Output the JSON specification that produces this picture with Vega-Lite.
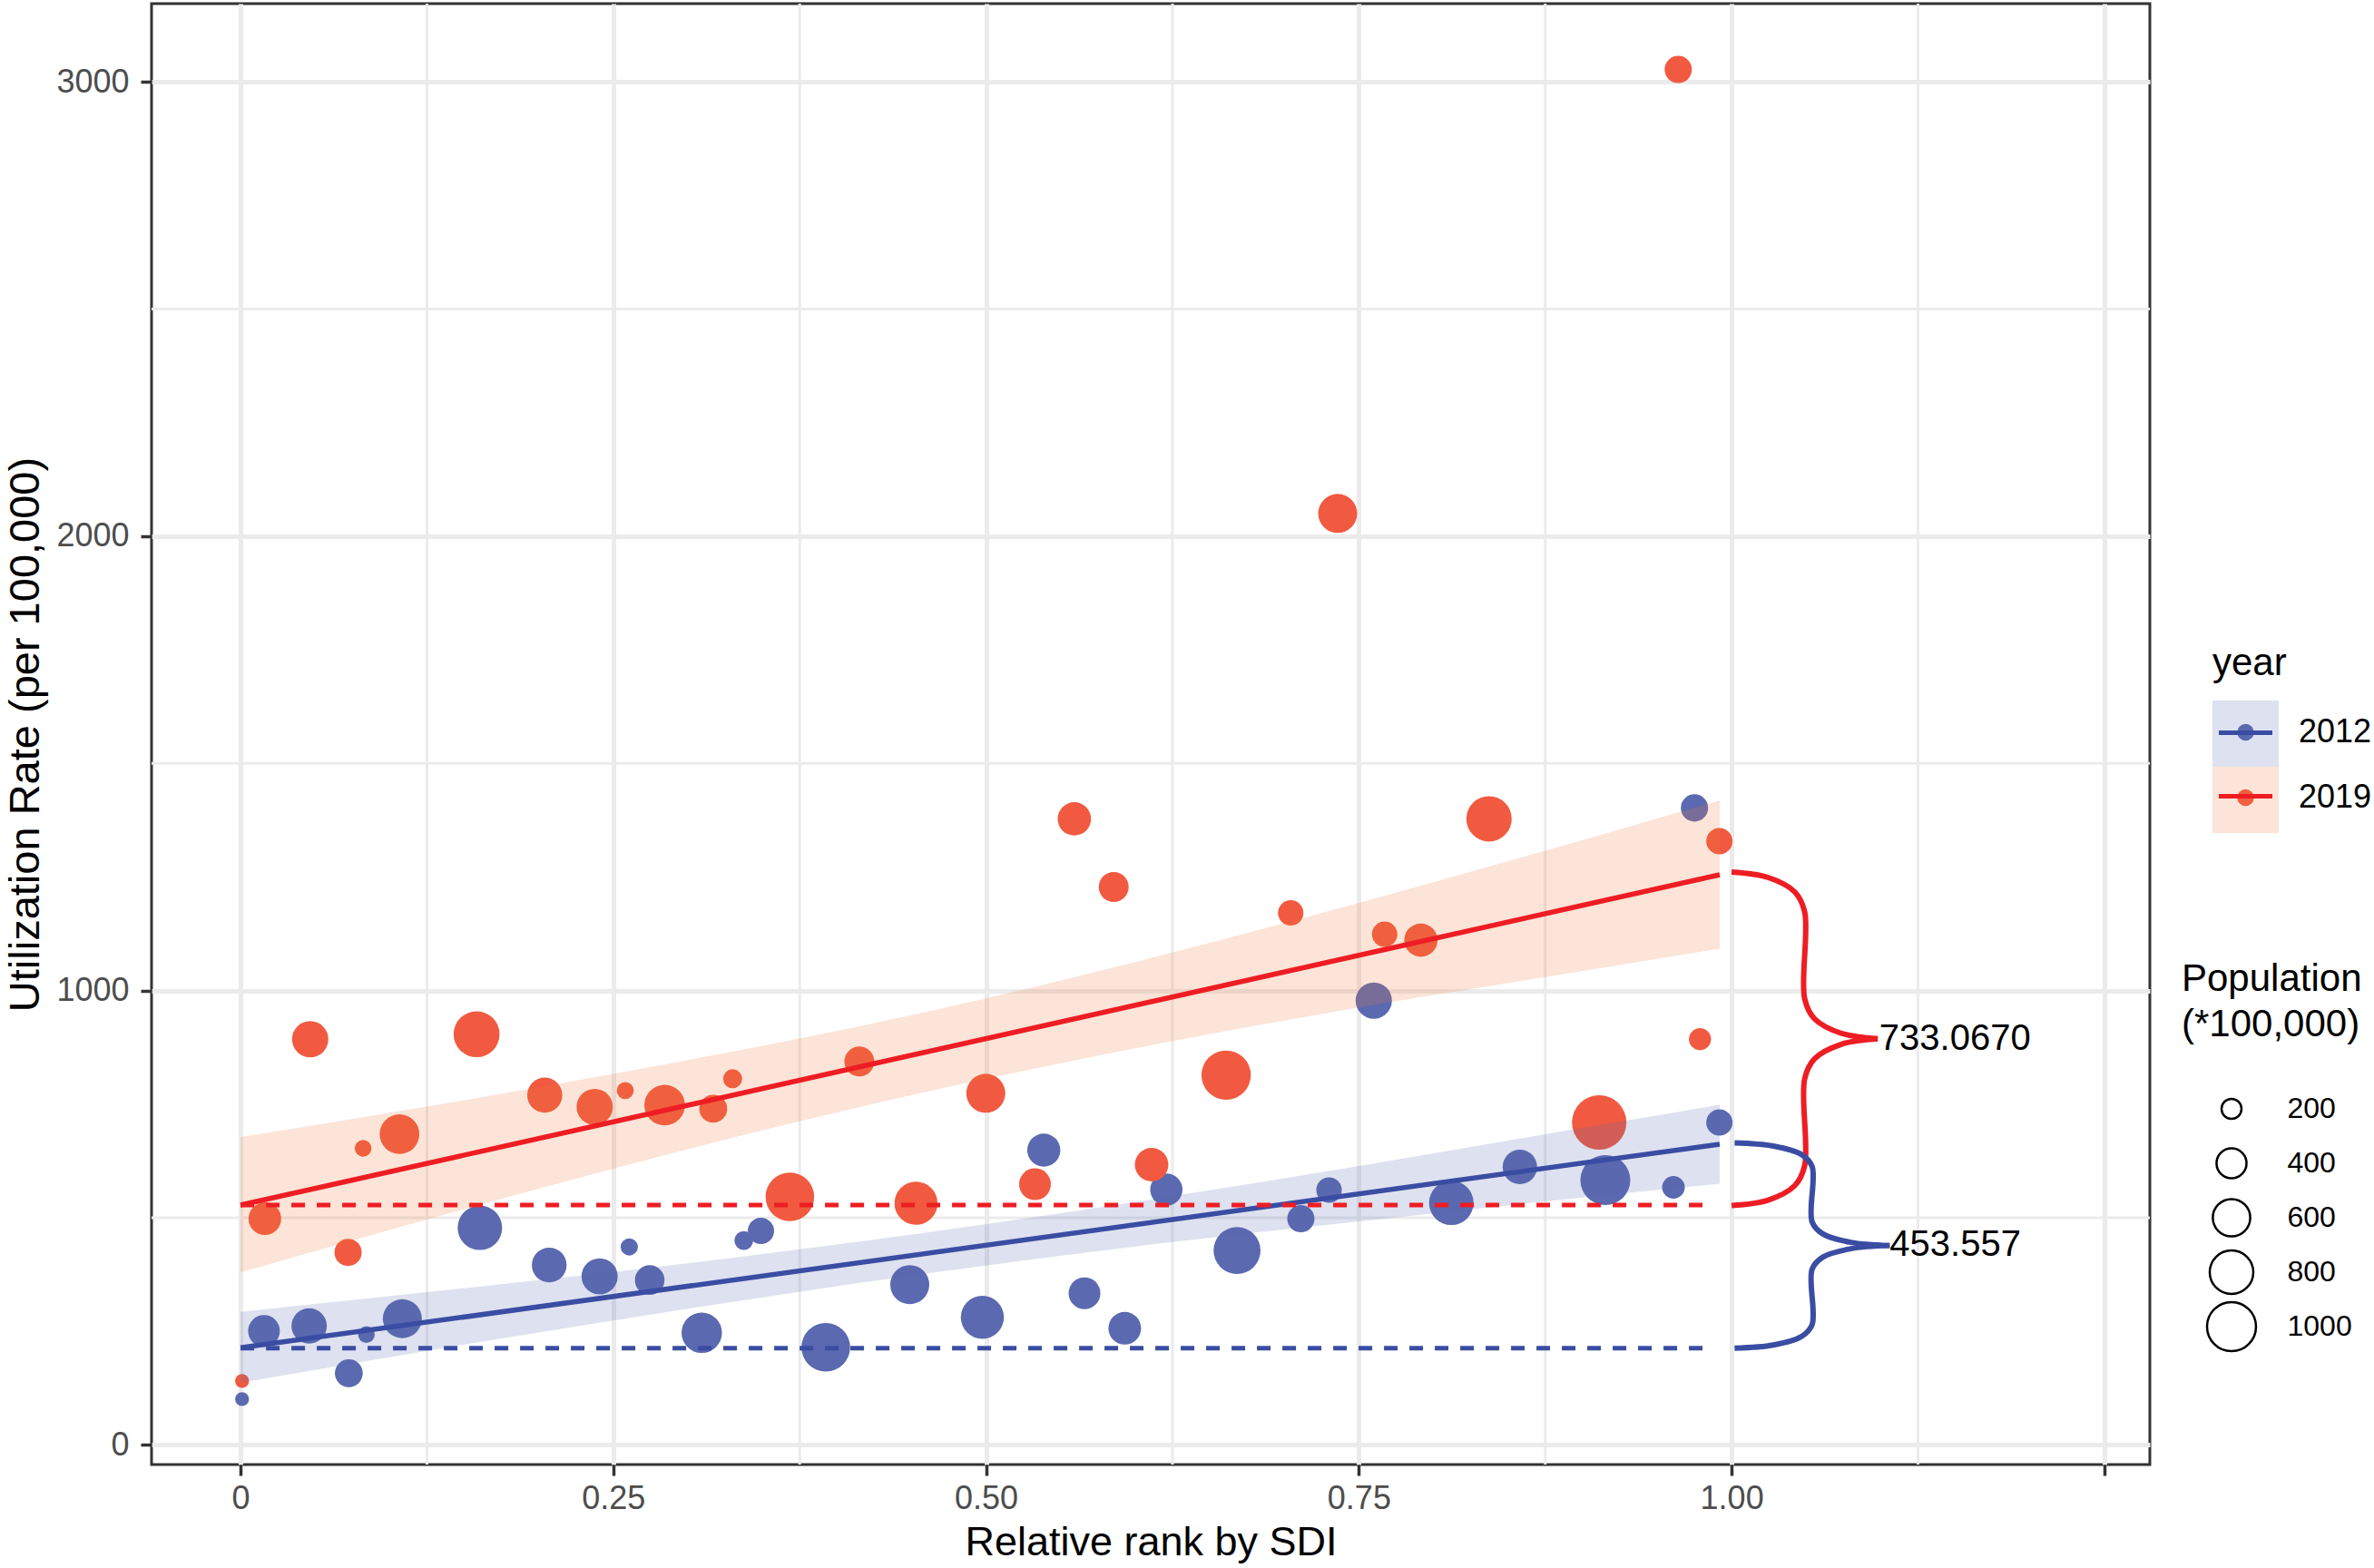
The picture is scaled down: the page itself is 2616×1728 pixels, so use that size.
{
  "$schema": "https://vega.github.io/schema/vega-lite/v6.json",
  "width": 2202,
  "height": 1610,
  "autosize": {"type": "none"},
  "padding": {"left": 167, "top": 4, "right": 247, "bottom": 114},
  "background": "white",
  "config": {
    "view": {"stroke": "#333333", "strokeWidth": 3},
    "font": "Liberation Sans",
    "axis": {"labelFont": "Liberation Sans", "titleFont": "Liberation Sans"},
    "legend": {"labelFont": "Liberation Sans", "titleFont": "Liberation Sans"}
  },
  "datasets": {
    "minorx": [{"x": 0.125}, {"x": 0.375}, {"x": 0.625}, {"x": 0.875}, {"x": 1.125}],
    "minory": [{"y": 500}, {"y": 1500}, {"y": 2500}],
    "points": [
      {"year": "2012", "x": 0.001, "y": 101, "pop": 30},
      {"year": "2012", "x": 0.0157, "y": 251, "pop": 444},
      {"year": "2012", "x": 0.046, "y": 262, "pop": 541},
      {"year": "2012", "x": 0.0726, "y": 158, "pop": 351},
      {"year": "2012", "x": 0.0844, "y": 243, "pop": 101},
      {"year": "2012", "x": 0.1085, "y": 278, "pop": 649},
      {"year": "2012", "x": 0.1605, "y": 478, "pop": 831},
      {"year": "2012", "x": 0.207, "y": 396, "pop": 523},
      {"year": "2012", "x": 0.2408, "y": 371, "pop": 562},
      {"year": "2012", "x": 0.2607, "y": 436, "pop": 116},
      {"year": "2012", "x": 0.2744, "y": 363, "pop": 391},
      {"year": "2012", "x": 0.3093, "y": 247, "pop": 695},
      {"year": "2012", "x": 0.3375, "y": 450, "pop": 162},
      {"year": "2012", "x": 0.349, "y": 471, "pop": 317},
      {"year": "2012", "x": 0.3925, "y": 215, "pop": 986},
      {"year": "2012", "x": 0.4488, "y": 353, "pop": 649},
      {"year": "2012", "x": 0.4975, "y": 281, "pop": 783},
      {"year": "2012", "x": 0.5387, "y": 649, "pop": 477},
      {"year": "2012", "x": 0.566, "y": 334, "pop": 444},
      {"year": "2012", "x": 0.593, "y": 257, "pop": 467},
      {"year": "2012", "x": 0.6209, "y": 562, "pop": 458},
      {"year": "2012", "x": 0.6683, "y": 428, "pop": 920},
      {"year": "2012", "x": 0.7111, "y": 498, "pop": 337},
      {"year": "2012", "x": 0.730, "y": 561, "pop": 299},
      {"year": "2012", "x": 0.760, "y": 978, "pop": 567},
      {"year": "2012", "x": 0.812, "y": 533, "pop": 831},
      {"year": "2012", "x": 0.858, "y": 612, "pop": 516},
      {"year": "2012", "x": 0.9153, "y": 583, "pop": 1036},
      {"year": "2012", "x": 0.961, "y": 567, "pop": 246},
      {"year": "2012", "x": 0.9751, "y": 1402, "pop": 337},
      {"year": "2012", "x": 0.9918, "y": 710, "pop": 317},
      {"year": "2019", "x": 0.001, "y": 141, "pop": 30},
      {"year": "2019", "x": 0.0163, "y": 498, "pop": 467},
      {"year": "2019", "x": 0.0467, "y": 893, "pop": 567},
      {"year": "2019", "x": 0.0721, "y": 424, "pop": 337},
      {"year": "2019", "x": 0.0822, "y": 653, "pop": 101},
      {"year": "2019", "x": 0.1066, "y": 684, "pop": 669},
      {"year": "2019", "x": 0.1583, "y": 904, "pop": 883},
      {"year": "2019", "x": 0.204, "y": 770, "pop": 533},
      {"year": "2019", "x": 0.2375, "y": 744, "pop": 567},
      {"year": "2019", "x": 0.258, "y": 780, "pop": 111},
      {"year": "2019", "x": 0.2844, "y": 748, "pop": 701},
      {"year": "2019", "x": 0.317, "y": 740, "pop": 351},
      {"year": "2019", "x": 0.330, "y": 806, "pop": 170},
      {"year": "2019", "x": 0.3684, "y": 546, "pop": 986},
      {"year": "2019", "x": 0.415, "y": 844, "pop": 399},
      {"year": "2019", "x": 0.453, "y": 532, "pop": 783},
      {"year": "2019", "x": 0.4998, "y": 774, "pop": 649},
      {"year": "2019", "x": 0.5328, "y": 574, "pop": 444},
      {"year": "2019", "x": 0.5592, "y": 1378, "pop": 484},
      {"year": "2019", "x": 0.5856, "y": 1228, "pop": 399},
      {"year": "2019", "x": 0.611, "y": 617, "pop": 491},
      {"year": "2019", "x": 0.661, "y": 814, "pop": 1014},
      {"year": "2019", "x": 0.7043, "y": 1171, "pop": 299},
      {"year": "2019", "x": 0.7358, "y": 2050, "pop": 649},
      {"year": "2019", "x": 0.7673, "y": 1124, "pop": 299},
      {"year": "2019", "x": 0.7916, "y": 1111, "pop": 484},
      {"year": "2019", "x": 0.8373, "y": 1378, "pop": 863},
      {"year": "2019", "x": 0.9112, "y": 710, "pop": 1225},
      {"year": "2019", "x": 0.9642, "y": 3027, "pop": 337},
      {"year": "2019", "x": 0.9788, "y": 893, "pop": 235},
      {"year": "2019", "x": 0.9918, "y": 1329, "pop": 317}
    ],
    "band": [
      {"year": "2012", "x": 0, "lo": 137, "hi": 293},
      {"year": "2012", "x": 0.15, "lo": 221, "hi": 345},
      {"year": "2012", "x": 0.3, "lo": 300, "hi": 400},
      {"year": "2012", "x": 0.45, "lo": 373, "hi": 463},
      {"year": "2012", "x": 0.6, "lo": 437, "hi": 535},
      {"year": "2012", "x": 0.75, "lo": 492, "hi": 614},
      {"year": "2012", "x": 0.875, "lo": 536, "hi": 684},
      {"year": "2012", "x": 0.992, "lo": 575, "hi": 749},
      {"year": "2019", "x": 0, "lo": 380, "hi": 678},
      {"year": "2019", "x": 0.15, "lo": 519, "hi": 759},
      {"year": "2019", "x": 0.3, "lo": 651, "hi": 847},
      {"year": "2019", "x": 0.45, "lo": 770, "hi": 946},
      {"year": "2019", "x": 0.6, "lo": 873, "hi": 1063},
      {"year": "2019", "x": 0.75, "lo": 963, "hi": 1193},
      {"year": "2019", "x": 0.875, "lo": 1030, "hi": 1308},
      {"year": "2019", "x": 0.992, "lo": 1092, "hi": 1418}
    ],
    "fit": [
      {"year": "2012", "x": 0, "y": 214},
      {"year": "2012", "x": 0.992, "y": 662},
      {"year": "2019", "x": 0, "y": 528},
      {"year": "2019", "x": 0.992, "y": 1255}
    ],
    "base": [
      {"year": "2012", "x": 0, "y": 213},
      {"year": "2012", "x": 0.988, "y": 213},
      {"year": "2019", "x": 0, "y": 528},
      {"year": "2019", "x": 0.988, "y": 528}
    ],
    "brace": [
      {"year": "2019", "part": "r1", "i": 0, "x": 1.0, "y": 1261},
      {"year": "2019", "part": "r1", "i": 1, "x": 1.0245, "y": 1249},
      {"year": "2019", "part": "r1", "i": 2, "x": 1.0424, "y": 1217},
      {"year": "2019", "part": "r1", "i": 3, "x": 1.049, "y": 1173},
      {"year": "2019", "part": "r1", "i": 4, "x": 1.049, "y": 982},
      {"year": "2019", "part": "r1", "i": 5, "x": 1.0556, "y": 938},
      {"year": "2019", "part": "r1", "i": 6, "x": 1.0736, "y": 906},
      {"year": "2019", "part": "r1", "i": 7, "x": 1.098, "y": 894},
      {"year": "2019", "part": "r2", "i": 0, "x": 1.098, "y": 894},
      {"year": "2019", "part": "r2", "i": 1, "x": 1.0736, "y": 882},
      {"year": "2019", "part": "r2", "i": 2, "x": 1.0556, "y": 850},
      {"year": "2019", "part": "r2", "i": 3, "x": 1.049, "y": 806},
      {"year": "2019", "part": "r2", "i": 4, "x": 1.049, "y": 615},
      {"year": "2019", "part": "r2", "i": 5, "x": 1.0424, "y": 571},
      {"year": "2019", "part": "r2", "i": 6, "x": 1.0245, "y": 539},
      {"year": "2019", "part": "r2", "i": 7, "x": 1.0, "y": 527},
      {"year": "2012", "part": "b1", "i": 0, "x": 1.002, "y": 665},
      {"year": "2012", "part": "b1", "i": 1, "x": 1.028, "y": 658},
      {"year": "2012", "part": "b1", "i": 2, "x": 1.047, "y": 639},
      {"year": "2012", "part": "b1", "i": 3, "x": 1.054, "y": 613},
      {"year": "2012", "part": "b1", "i": 4, "x": 1.054, "y": 491},
      {"year": "2012", "part": "b1", "i": 5, "x": 1.061, "y": 465},
      {"year": "2012", "part": "b1", "i": 6, "x": 1.080, "y": 446},
      {"year": "2012", "part": "b1", "i": 7, "x": 1.106, "y": 439},
      {"year": "2012", "part": "b2", "i": 0, "x": 1.106, "y": 439},
      {"year": "2012", "part": "b2", "i": 1, "x": 1.080, "y": 432},
      {"year": "2012", "part": "b2", "i": 2, "x": 1.061, "y": 413},
      {"year": "2012", "part": "b2", "i": 3, "x": 1.054, "y": 387},
      {"year": "2012", "part": "b2", "i": 4, "x": 1.054, "y": 265},
      {"year": "2012", "part": "b2", "i": 5, "x": 1.047, "y": 239},
      {"year": "2012", "part": "b2", "i": 6, "x": 1.028, "y": 220},
      {"year": "2012", "part": "b2", "i": 7, "x": 1.002, "y": 213}
    ],
    "labels": [
      {"x": 1.099, "y": 893, "label": "733.0670"},
      {"x": 1.106, "y": 440, "label": "453.557"}
    ]
  },
  "layer": [
    {
      "data": {"name": "minorx"},
      "mark": {"type": "rule", "color": "#EBEBEB", "strokeWidth": 3},
      "encoding": {
        "x": {"field": "x", "type": "quantitative", "scale": {"domain": [-0.0597, 1.2805], "nice": false, "zero": false}}
      }
    },
    {
      "data": {"name": "minory"},
      "mark": {"type": "rule", "color": "#EBEBEB", "strokeWidth": 3},
      "encoding": {
        "y": {"field": "y", "type": "quantitative", "scale": {"domain": [-43, 3172], "nice": false, "zero": false}}
      }
    },
    {
      "data": {"name": "points"},
      "mark": {"type": "circle", "opacity": 1, "strokeWidth": 0},
      "encoding": {
        "x": {
          "field": "x", "type": "quantitative",
          "scale": {"domain": [-0.0597, 1.2805], "nice": false, "zero": false},
          "axis": {
            "values": [0, 0.25, 0.5, 0.75, 1, 1.25],
            "labelExpr": "datum.value == 0 ? '0' : (datum.value > 1.1 ? '' : format(datum.value, '.2f'))",
            "title": "Relative rank by SDI",
            "titleFontSize": 45, "titleFontWeight": "normal", "titleColor": "black", "titlePadding": 8,
            "labelFontSize": 36, "labelColor": "#4D4D4D", "labelPadding": 8,
            "tickSize": 12, "tickWidth": 3.5, "tickColor": "#333333",
            "domain": false, "grid": true, "gridColor": "#EBEBEB", "gridWidth": 5,
            "labelFlush": false, "labelOverlap": false
          }
        },
        "y": {
          "field": "y", "type": "quantitative",
          "scale": {"domain": [-43, 3172], "nice": false, "zero": false},
          "axis": {
            "values": [0, 1000, 2000, 3000], "format": "d",
            "title": "Utilization Rate (per 100,000)",
            "titleFontSize": 47, "titleFontWeight": "normal", "titleColor": "black", "titlePadding": 9,
            "labelFontSize": 36, "labelColor": "#4D4D4D", "labelPadding": 13,
            "tickSize": 12, "tickWidth": 3.5, "tickColor": "#333333",
            "domain": false, "grid": true, "gridColor": "#EBEBEB", "gridWidth": 5
          }
        },
        "color": {
          "field": "year", "type": "nominal",
          "scale": {"range": ["#5B69B0", "#F15A40"]},
          "legend": {
            "orient": "none", "legendX": 2271, "legendY": 707, "padding": 0,
            "title": "year", "titleFontSize": 42, "titleFontWeight": "normal", "titleColor": "black", "titlePadding": 36,
            "labelFontSize": 36, "labelColor": "black", "labelOffset": 40.5,
            "symbolType": "circle", "symbolSize": 340, "symbolOffset": 18.5, "symbolStrokeWidth": 0,
            "rowPadding": 36
          }
        },
        "size": {
          "field": "pop", "type": "quantitative",
          "scale": {"type": "linear", "domain": [0, 200, 1000, 1200], "range": [191, 484, 2916, 3524]},
          "legend": {
            "orient": "none", "legendX": 2237, "legendY": 1055, "padding": 0,
            "title": ["Population", "(*100,000)"], "titleLineHeight": 50, "titleLimit": 600,
            "titleFontSize": 42, "titleFontWeight": "normal", "titleColor": "black", "titlePadding": 41,
            "values": [200, 400, 600, 800, 1000], "format": "d",
            "labelFontSize": 32, "labelColor": "black", "labelOffset": 33,
            "symbolType": "circle", "symbolOffset": 26.5, "clipHeight": 60, "rowPadding": 0,
            "symbolFillColor": "transparent", "symbolStrokeColor": "black", "symbolStrokeWidth": 2.5
          }
        }
      }
    },
    {
      "data": {"name": "band"},
      "mark": {"type": "area", "opacity": 0.2, "interpolate": "monotone"},
      "encoding": {
        "x": {"field": "x", "type": "quantitative", "scale": {"domain": [-0.0597, 1.2805], "nice": false, "zero": false}},
        "y": {"field": "lo", "type": "quantitative", "scale": {"domain": [-43, 3172], "nice": false, "zero": false}},
        "y2": {"field": "hi"},
        "fill": {
          "field": "year", "type": "nominal",
          "scale": {"domain": ["2012", "2019"], "range": ["#5B69B0", "#F0783C"]},
          "legend": {
            "orient": "none", "legendX": 2271, "legendY": 768, "padding": 0,
            "title": null, "labelFontSize": 1, "labelOpacity": 0,
            "symbolType": "square", "symbolSize": 5329, "symbolStrokeWidth": 0, "symbolOpacity": 0.2,
            "rowPadding": -1
          }
        }
      }
    },
    {
      "data": {"name": "fit"},
      "mark": {"type": "line", "strokeWidth": 5.5},
      "encoding": {
        "x": {"field": "x", "type": "quantitative", "scale": {"domain": [-0.0597, 1.2805], "nice": false, "zero": false}},
        "y": {"field": "y", "type": "quantitative", "scale": {"domain": [-43, 3172], "nice": false, "zero": false}},
        "stroke": {
          "field": "year", "type": "nominal",
          "scale": {"range": ["#3A4DA3", "#EE1D23"]},
          "legend": {
            "orient": "none", "legendX": 2271, "legendY": 771.5, "padding": 0,
            "title": null, "labelFontSize": 1, "labelOpacity": 0,
            "symbolType": "stroke", "symbolSize": 3481, "symbolStrokeWidth": 5, "symbolOffset": 4.5,
            "rowPadding": 28
          }
        }
      }
    },
    {
      "data": {"name": "base"},
      "mark": {"type": "line", "strokeWidth": 5, "strokeDash": [15, 13]},
      "encoding": {
        "x": {"field": "x", "type": "quantitative", "scale": {"domain": [-0.0597, 1.2805], "nice": false, "zero": false}},
        "y": {"field": "y", "type": "quantitative", "scale": {"domain": [-43, 3172], "nice": false, "zero": false}},
        "stroke": {"field": "year", "type": "nominal", "legend": null}
      }
    },
    {
      "data": {"name": "brace"},
      "mark": {"type": "line", "strokeWidth": 6, "interpolate": "catmull-rom"},
      "encoding": {
        "x": {"field": "x", "type": "quantitative", "scale": {"domain": [-0.0597, 1.2805], "nice": false, "zero": false}},
        "y": {"field": "y", "type": "quantitative", "scale": {"domain": [-43, 3172], "nice": false, "zero": false}},
        "stroke": {"field": "year", "type": "nominal", "legend": null},
        "detail": {"field": "part", "type": "nominal"},
        "order": {"field": "i", "type": "quantitative"}
      }
    },
    {
      "data": {"name": "labels"},
      "mark": {"type": "text", "align": "left", "baseline": "middle", "fontSize": 40, "font": "Liberation Sans", "color": "black"},
      "encoding": {
        "x": {"field": "x", "type": "quantitative", "scale": {"domain": [-0.0597, 1.2805], "nice": false, "zero": false}},
        "y": {"field": "y", "type": "quantitative", "scale": {"domain": [-43, 3172], "nice": false, "zero": false}},
        "text": {"field": "label", "type": "nominal"}
      }
    }
  ]
}
